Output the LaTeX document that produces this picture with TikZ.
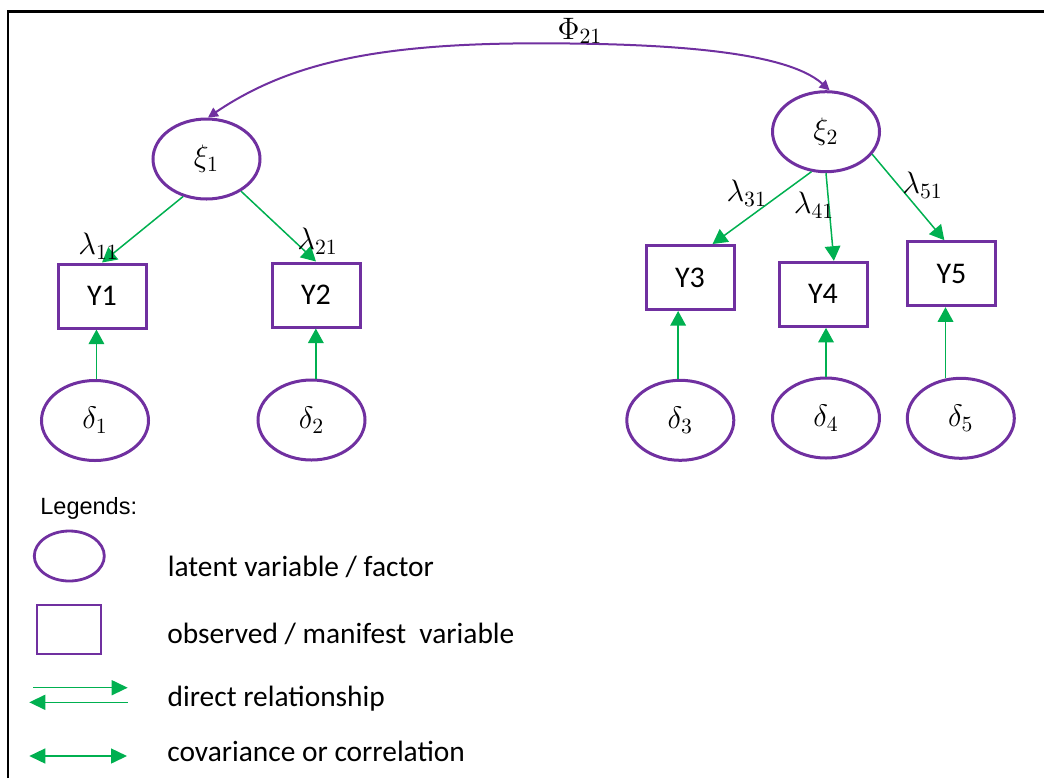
\documentclass[tikz,border=0pt]{standalone}
\usepackage{fix-cm}
\usepackage{fontspec}
\setmainfont{Carlito}
\newfontfamily\legendfont{Liberation Sans}
\usetikzlibrary{arrows.meta,shapes.geometric}
\definecolor{semviolet}{HTML}{7030A0}
\definecolor{semgreen}{HTML}{00B050}

\begin{document}
\begin{tikzpicture}[x=0.5pt,y=-0.5pt,
  latent/.style={ellipse,draw=semviolet,line width=1.5pt,minimum width=53.5pt,
    minimum height=40pt,inner sep=0pt,font=\fontsize{15.5}{18}\selectfont},
  observed/.style={rectangle,draw=semviolet,line width=1.5pt,minimum width=44pt,
    minimum height=32pt,inner sep=0pt,font=\fontsize{15}{18}\selectfont},
  coef/.style={inner sep=0pt,font=\fontsize{15.5}{18}\selectfont},
  load/.style={semgreen,line width=0.75pt,-{Triangle[length=7.3pt,width=7.8pt]}},
  legarrow/.style={semgreen,line width=0.75pt,-{Triangle[length=8pt,width=7.5pt]}},
  legcov/.style={semgreen,line width=0.75pt,{Triangle[length=8pt,width=7.5pt]}-{Triangle[length=8pt,width=7.5pt]}},
  covar/.style={semviolet,line width=1pt,{Triangle[length=5pt,width=5pt]}-{Triangle[length=5pt,width=5pt]}},
  legtext/.style={anchor=base west,inner sep=0pt,font=\fontsize{14.7}{17}\selectfont}
]
\useasboundingbox (0,0) rectangle (1044,778);

% frame
\draw[line width=1.35pt] (8,778) -- (8,11.3) -- (1044,11.3);

% latent factors
\node[latent] (xi1) at (206.5,159) {$\xi_1$};
\node[latent] (xi2) at (826,131.7) {$\xi_2$};

% indicators
\node[observed] (Y1) at (102,296) {Y1};
\node[observed] (Y2) at (316,295) {Y2};
\node[observed] (Y3) at (690,277.5) {Y3};
\node[observed] (Y4) at (823,294.3) {Y4};
\node[observed] (Y5) at (951.5,273.7) {Y5};

% measurement errors
\node[latent] (d1) at (95,420.5) {$\delta_1$};
\node[latent] (d2) at (311.5,420) {$\delta_2$};
\node[latent] (d3) at (680.3,420.3) {$\delta_3$};
\node[latent] (d4) at (826,418) {$\delta_4$};
\node[latent] (d5) at (960.8,418.3) {$\delta_5$};

% factor covariance
\draw[covar] (xi1.88) .. controls (290,62) and (380,43.3) .. (540,43.3)
  .. controls (660,43.5) and (785,50) .. (xi2.85);
\node[coef] (phi) at (580,31) {$\Phi_{21}$};

% loadings
\draw[load] (xi1.238) -- (Y1.north);
\draw[load] (xi1.317) -- (Y2.north);
\draw[load] (xi2.250) -- (Y3.56);
\draw[load] (xi2.south) -- (Y4.72);
\draw[load] (xi2.334) -- (Y5.102);

\node[coef] (l11) at (98.5,246) {$\lambda_{11}$};
\node[coef] (l21) at (317.5,241) {$\lambda_{21}$};
\node[coef] (l31) at (746.7,193.3) {$\lambda_{31}$};
\node[coef] (l41) at (814,205) {$\lambda_{41}$};
\node[coef] (l51) at (922.5,185) {$\lambda_{51}$};

% error paths
\draw[load] (d1.88) -- (d1.88 |- Y1.south);
\draw[load] (d2.84) -- (d2.84 |- Y2.south);
\draw[load] (d3.93) -- (d3.93 |- Y3.south);
\draw[load] (d4.north) -- (d4.north |- Y4.south);
\draw[load] (d5.111) -- (d5.111 |- Y5.south);

% legend
\node[anchor=base west,inner sep=0pt,font=\legendfont\fontsize{11.75}{14}\selectfont]
  (leghead) at (40,514.3) {Legends:};
\node[ellipse,draw=semviolet,line width=1.4pt,minimum width=35pt,minimum height=25pt,
  inner sep=0pt] (legell) at (69.3,556) {};
\node[rectangle,draw=semviolet,line width=1.4pt,minimum width=32pt,minimum height=24.5pt,
  inner sep=0pt] (legrect) at (69,629.5) {};
\coordinate (da1) at (33.3,687.7);
\coordinate (da2) at (127.7,687.7);
\coordinate (db1) at (127.7,702.3);
\coordinate (db2) at (29.3,702.3);
\coordinate (cv1) at (29.3,756);
\coordinate (cv2) at (127,756);
\draw[legarrow] (da1) -- (da2);
\draw[legarrow] (db1) -- (db2);
\draw[legcov] (cv1) -- (cv2);

\node[legtext] (t1) at (167.5,576.7) {latent variable / factor};
\node[legtext] (t2) at (167,643.3) {observed / manifest~~variable};
\node[legtext] (t3) at (167.3,706.7) {direct relationship};
\node[legtext] (t4) at (167,761.7) {covariance or correlation};
\end{tikzpicture}
\end{document}
